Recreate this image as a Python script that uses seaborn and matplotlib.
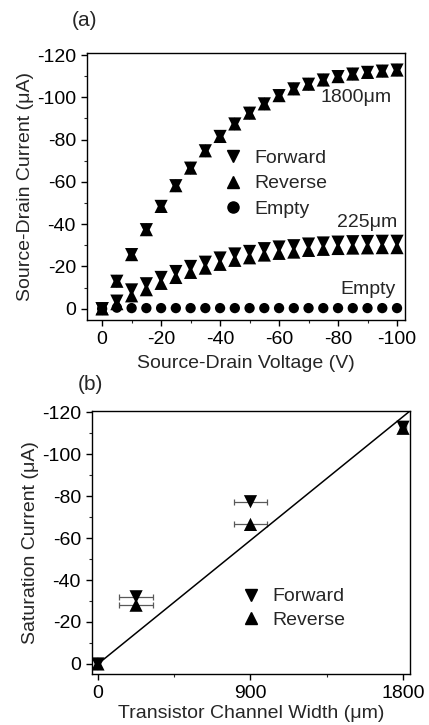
import numpy as np
import pandas as pd
import seaborn as sns
import matplotlib.pyplot as plt
from matplotlib.lines import Line2D
from matplotlib.ticker import MultipleLocator

# Panel (a): source-drain sweep
voltage = [0, -5, -10, -15, -20, -25, -30, -35, -40, -45, -50,
           -55, -60, -65, -70, -75, -80, -85, -90, -95, -100]
fwd_1800 = [0, -13, -25.6, -37.4, -48.4, -58.2, -66.5, -74.7, -81.5, -87.4, -92.5,
            -96.9, -100.8, -104, -106.2, -108.2, -109.8, -111, -111.8, -112.4, -112.9]
rev_1800 = [0, -13, -25.6, -37.4, -48.4, -58.2, -66.5, -74.7, -81.5, -87.4, -92.5,
            -96.9, -100.8, -104, -106.2, -108.2, -109.8, -111, -111.8, -112.4, -112.9]
fwd_225 = [0, -3.6, -8.9, -11.8, -14.8, -17.6, -20.0, -22.0, -24.0, -25.9, -27.1,
           -28.4, -29.2, -29.8, -30.6, -31.1, -31.5, -31.7, -31.8, -31.9, -31.9]
rev_225 = [0, -2.4, -6.1, -9.0, -12.0, -14.8, -17.2, -19.2, -21.0, -22.9, -24.1,
           -25.4, -26.2, -26.8, -27.6, -28.1, -28.5, -28.7, -28.8, -28.9, -28.9]
empty = [0, -0.5, -0.3, -0.3, -0.3, -0.3, -0.3, -0.3, -0.3, -0.3, -0.3,
         -0.3, -0.3, -0.3, -0.3, -0.3, -0.3, -0.3, -0.3, -0.3, -0.3]

# Panel (b): saturation current vs channel width
width = [0, 225, 900, 1800]
sat_fwd = [0, -32, -77.3, -112.8]
sat_rev = [0, -28, -66.5, -112.3]
width_err = [0, 100, 100, 20]
fit_width = [0, 1842]
fit_current = [0, -120.6]

sns.set_theme(style="ticks")
plt.rcParams['font.family'] = ['Liberation Sans', 'DejaVu Sans']
plt.rcParams['axes.linewidth'] = 1.0
plt.rcParams['axes.unicode_minus'] = False

rows = []
for name, vals, d in [("1800f", fwd_1800, "Forward"), ("1800r", rev_1800, "Reverse"),
                      ("225f", fwd_225, "Forward"), ("225r", rev_225, "Reverse"),
                      ("empty", empty, "Empty")]:
    for v, i in zip(voltage, vals):
        rows.append({"V": v, "I": i, "dir": d, "set": name})
df_a = pd.DataFrame(rows)

markers = {"Forward": "v", "Reverse": "^", "Empty": "o"}
msizes = {"Forward": 90, "Reverse": 90, "Empty": 55}
FS = 14

fig = plt.figure(figsize=(4.29, 7.25), dpi=100)
ax1 = fig.add_axes([0.203, 0.559, 0.741, 0.368])
ax2 = fig.add_axes([0.2145, 0.0703, 0.7415, 0.3627])

sns.scatterplot(data=df_a, x="V", y="I", style="dir", markers=markers,
                size="dir", sizes=msizes, color="black", linewidth=0,
                legend=False, ax=ax1)
ax1.set_xlim(5.1, -102.7)
ax1.set_ylim(5.2, -121)
ax1.xaxis.set_major_locator(MultipleLocator(20))
ax1.xaxis.set_minor_locator(MultipleLocator(10))
ax1.yaxis.set_major_locator(MultipleLocator(20))
ax1.yaxis.set_minor_locator(MultipleLocator(10))
ax1.set_xlabel("Source-Drain Voltage (V)", fontsize=FS, labelpad=5)
ax1.set_ylabel("Source-Drain Current (\u03bcA)", fontsize=FS, labelpad=2)
ax1.text(-86, -100, "1800\u03bcm", fontsize=FS, ha="center", va="center")
ax1.text(-90, -41, "225\u03bcm", fontsize=FS, ha="center", va="center")
ax1.text(-90, -9, "Empty", fontsize=FS, ha="center", va="center")
fig.text(72 / 429, 1 - 20 / 725, "(a)", fontsize=15, ha="left", va="center")

handles = [Line2D([], [], ls="none", marker=markers[k], color="black", markersize=8)
           for k in ["Forward", "Reverse", "Empty"]]
ax1.legend(handles, ["Forward", "Reverse", "Empty"], loc="center",
           bbox_to_anchor=(0.59, 0.51), frameon=False, fontsize=FS,
           handletextpad=0.5, labelspacing=0.4, handlelength=1.2)

# Panel (b)
df_b = pd.DataFrame({"W": width * 2, "I": sat_fwd + sat_rev,
                     "dir": ["Forward"] * 4 + ["Reverse"] * 4})
ax2.errorbar(width, sat_fwd, xerr=width_err, fmt="none", ecolor="0.35",
             elinewidth=0.9, capsize=2.5, capthick=0.9)
ax2.errorbar(width, sat_rev, xerr=width_err, fmt="none", ecolor="0.35",
             elinewidth=0.9, capsize=2.5, capthick=0.9)
sns.lineplot(x=fit_width, y=fit_current, color="black", linewidth=1.1, ax=ax2)
sns.scatterplot(data=df_b, x="W", y="I", style="dir", markers=markers,
                color="black", s=90, linewidth=0, legend=False, ax=ax2, zorder=3)
ax2.set_xlim(-35, 1842)
ax2.set_ylim(4.8, -120.5)
ax2.set_xticks([0, 900, 1800])
ax2.xaxis.set_minor_locator(MultipleLocator(450))
ax2.yaxis.set_major_locator(MultipleLocator(20))
ax2.yaxis.set_minor_locator(MultipleLocator(10))
ax2.set_xlabel("Transistor Channel Width (\u03bcm)", fontsize=FS, labelpad=2)
ax2.set_ylabel("Saturation Current (\u03bcA)", fontsize=FS, labelpad=2)
fig.text(78 / 429, 1 - 385 / 725, "(b)", fontsize=15, ha="left", va="center")
handles2 = [Line2D([], [], ls="none", marker=markers[k], color="black", markersize=8)
            for k in ["Forward", "Reverse"]]
ax2.legend(handles2, ["Forward", "Reverse"], loc="center",
           bbox_to_anchor=(0.63, 0.25), frameon=False, fontsize=FS,
           handletextpad=0.5, labelspacing=0.3, handlelength=1.2)

for ax in (ax1, ax2):
    ax.tick_params(which="major", length=4, width=1, labelsize=FS, pad=4,
                   colors="black", direction="out")
    ax.tick_params(which="minor", length=2.5, width=0.8, direction="out")
    for sp in ax.spines.values():
        sp.set_visible(True)
        sp.set_color("black")

fig.savefig("out.png", dpi=100)
